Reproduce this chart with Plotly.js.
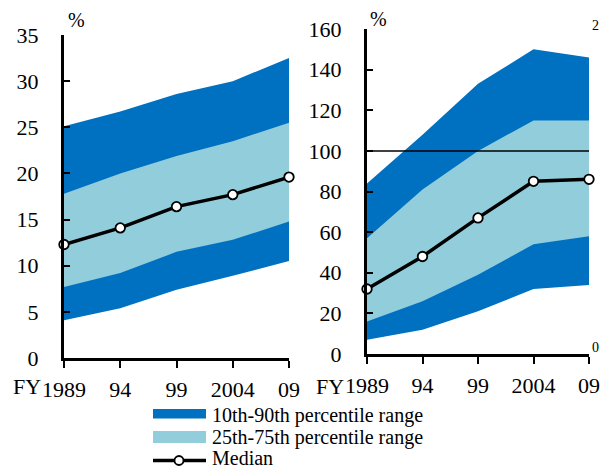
<!DOCTYPE html>
<html>
<head>
<meta charset="utf-8">
<script src="https://cdn.plot.ly/plotly-3.0.1.min.js"></script>
<style>html,body{margin:0;padding:0;background:#fff;}#chart{width:601px;height:470px;}</style>
</head>
<body>
<div id="chart"></div>
<script>
// Data
const years = [1989, 1994, 1999, 2004, 2009];
const tickLabels = ["1989", "94", "99", "2004", "09"];

// Left panel (%)
const leftP10 = [4.1, 5.4, 7.4, 8.9, 10.5];
const leftP25 = [7.7, 9.2, 11.5, 12.8, 14.8];
const leftMedian = [12.3, 14.1, 16.4, 17.7, 19.6];
const leftP75 = [17.8, 20.0, 21.9, 23.5, 25.5];
const leftP90 = [25.1, 26.7, 28.6, 30.0, 32.5];

// Right panel (%)
const rightP10 = [7, 12, 21, 32, 34];
const rightP25 = [16, 26, 39, 54, 58];
const rightMedian = [32, 48, 67, 85, 86];
const rightP75 = [57, 81, 100, 115, 115];
const rightP90 = [84, 108, 133, 150, 146];

const refLine = 100;
const legendLabels = ["10th-90th percentile range", "25th-75th percentile range", "Median"];

const DARK = '#0070C0';
const LIGHT = '#92CDDC';
const FONT = '"Liberation Serif", serif';

function bands(xa, ya, p10, p25, med, p75, p90) {
  return [
    {x: years, y: p10, xaxis: xa, yaxis: ya, type: 'scatter', mode: 'lines', line: {width: 0, color: DARK}, showlegend: false, hoverinfo: 'skip'},
    {x: years, y: p90, xaxis: xa, yaxis: ya, type: 'scatter', mode: 'lines', fill: 'tonexty', fillcolor: DARK, line: {width: 0, color: DARK}, showlegend: false},
    {x: years, y: p25, xaxis: xa, yaxis: ya, type: 'scatter', mode: 'lines', line: {width: 0, color: LIGHT}, showlegend: false, hoverinfo: 'skip'},
    {x: years, y: p75, xaxis: xa, yaxis: ya, type: 'scatter', mode: 'lines', fill: 'tonexty', fillcolor: LIGHT, line: {width: 0, color: LIGHT}, showlegend: false},
    {x: years, y: med, xaxis: xa, yaxis: ya, type: 'scatter', mode: 'lines+markers', line: {width: 3.5, color: '#000'},
     marker: {size: 9.5, color: '#fff', line: {width: 1.8, color: '#000'}}, showlegend: false, cliponaxis: false}
  ];
}

const data = [].concat(
  bands('x', 'y', leftP10, leftP25, leftMedian, leftP75, leftP90),
  bands('x2', 'y2', rightP10, rightP25, rightMedian, rightP75, rightP90)
);

const W = 601, H = 470;
const px = v => v / W;
const py = v => 1 - v / H;

function xAxis(domain, anchor) {
  return {
    domain: domain, anchor: anchor, range: [1989, 2009],
    tickmode: 'array', tickvals: years, ticktext: tickLabels,
    ticks: 'outside', ticklen: 7, tickwidth: 2, tickcolor: '#000',
    showline: true, linewidth: 3, linecolor: '#000',
    showgrid: false, zeroline: false, fixedrange: true,
    ticklabelstandoff: 3,
    tickfont: {family: FONT, size: 22, color: '#000'}
  };
}
function yAxis(domain, anchor, range, dtick) {
  return {
    domain: domain, anchor: anchor, range: range, dtick: dtick, tick0: 0,
    ticks: 'inside', ticklen: 6, tickwidth: 2, tickcolor: '#000',
    showline: true, linewidth: 3, linecolor: '#000',
    showgrid: false, zeroline: false, fixedrange: true,
    ticklabelstandoff: 18,
    tickfont: {family: FONT, size: 22, color: '#000'}
  };
}

const layout = {
  width: W, height: H,
  margin: {l: 0, r: 0, t: 0, b: 0},
  paper_bgcolor: '#fff', plot_bgcolor: 'rgba(0,0,0,0)',
  showlegend: false,
  font: {family: FONT, color: '#000'},
  xaxis: xAxis([px(64), px(289)], 'y'),
  yaxis: yAxis([py(358), py(35)], 'x', [0, 35], 5),
  xaxis2: xAxis([px(367), px(589)], 'y2'),
  yaxis2: yAxis([py(354), py(29)], 'x2', [0, 160], 20),
  shapes: [
    {type: 'line', xref: 'x2', yref: 'y2', x0: years[0], x1: years[years.length - 1], y0: refLine, y1: refLine, line: {color: '#000', width: 1.5}},
    // legend swatches
    {type: 'rect', xref: 'paper', yref: 'paper', x0: px(153), x1: px(206), y0: py(418.5), y1: py(409), fillcolor: DARK, line: {width: 0}},
    {type: 'rect', xref: 'paper', yref: 'paper', x0: px(153), x1: px(206), y0: py(443), y1: py(431), fillcolor: LIGHT, line: {width: 0}},
    {type: 'line', xref: 'paper', yref: 'paper', x0: px(153), x1: px(206), y0: py(460.5), y1: py(460.5), line: {color: '#000', width: 3.5}},
    {type: 'circle', xref: 'paper', yref: 'paper', x0: px(174.5), x1: px(183.5), y0: py(465), y1: py(456), fillcolor: '#fff', line: {color: '#000', width: 1.8}}
  ],
  annotations: [
    {xref: 'paper', yref: 'paper', x: px(76), y: py(20), text: '%', showarrow: false, font: {family: FONT, size: 20, color: '#000'}, xanchor: 'center', yanchor: 'middle'},
    {xref: 'paper', yref: 'paper', x: px(378), y: py(19), text: '%', showarrow: false, font: {family: FONT, size: 20, color: '#000'}, xanchor: 'center', yanchor: 'middle'},
    {xref: 'paper', yref: 'paper', x: px(43), y: py(386), text: 'FY', showarrow: false, font: {family: FONT, size: 22, color: '#000'}, xanchor: 'right', yanchor: 'middle'},
    {xref: 'paper', yref: 'paper', x: px(346), y: py(386), text: 'FY', showarrow: false, font: {family: FONT, size: 22, color: '#000'}, xanchor: 'right', yanchor: 'middle'},
    {xref: 'paper', yref: 'paper', x: 1, y: py(25), text: '2', showarrow: false, font: {family: FONT, size: 14, color: '#000'}, xanchor: 'right', yanchor: 'middle'},
    {xref: 'paper', yref: 'paper', x: 1, y: py(347), text: '0', showarrow: false, font: {family: FONT, size: 14, color: '#000'}, xanchor: 'right', yanchor: 'middle'},
    {xref: 'paper', yref: 'paper', x: px(210), y: py(415), text: legendLabels[0], showarrow: false, font: {family: FONT, size: 20, color: '#000'}, xanchor: 'left', yanchor: 'middle'},
    {xref: 'paper', yref: 'paper', x: px(210), y: py(437.5), text: legendLabels[1], showarrow: false, font: {family: FONT, size: 20, color: '#000'}, xanchor: 'left', yanchor: 'middle'},
    {xref: 'paper', yref: 'paper', x: px(210), y: py(458), text: legendLabels[2], showarrow: false, font: {family: FONT, size: 20, color: '#000'}, xanchor: 'left', yanchor: 'middle'}
  ]
};

Plotly.newPlot('chart', data, layout, {displayModeBar: false, staticPlot: true});
</script>
</body>
</html>
